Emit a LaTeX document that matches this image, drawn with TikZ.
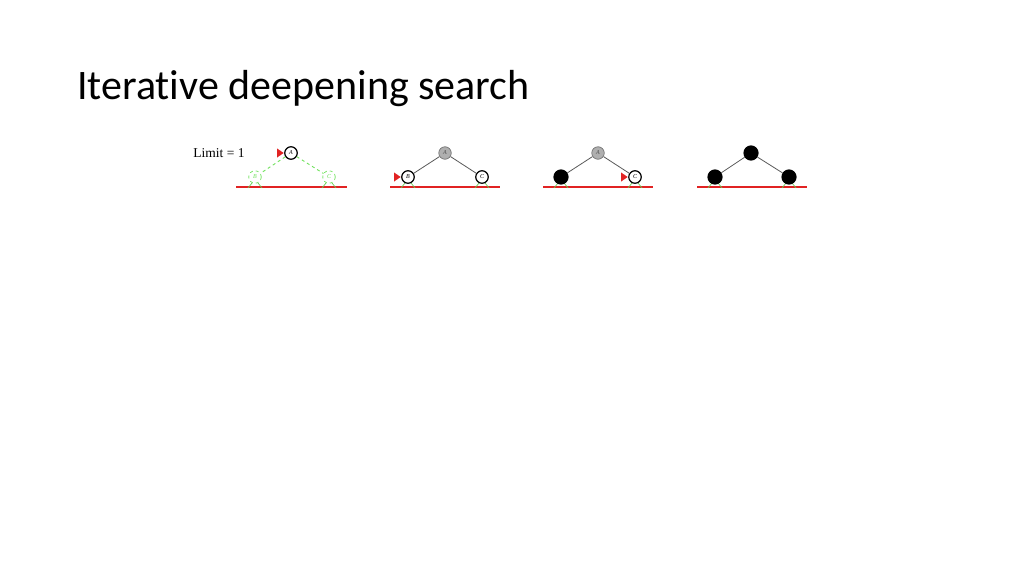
\documentclass[tikz,border=0pt]{standalone}
\usepackage{fontspec}
\setmainfont{Liberation Serif}
\newfontfamily\titlefont[Ligatures=NoCommon]{Carlito}
\usetikzlibrary{positioning}

\definecolor{ghostgreen}{RGB}{110,225,90}
\definecolor{floorred}{RGB}{225,35,35}
\definecolor{visgray}{RGB}{175,175,175}

\tikzset{
  tnode/.style={circle, draw=black, line width=1.2pt, fill=white, minimum size=12.5pt,
    inner sep=0pt, font=\fontsize{6}{6}\selectfont\itshape},
  gen/.style={tnode, fill=visgray, draw=black!55, line width=0.7pt, text=black!70},
  done/.style={tnode, fill=black, minimum size=14pt},
  ghost/.style={tnode, draw=ghostgreen, dashed, line width=0.7pt, text=ghostgreen},
  edge/.style={draw=black!65, line width=0.8pt},
  ghostedge/.style={draw=ghostgreen, dashed, line width=0.9pt},
  floor/.style={draw=floorred, line width=1.5pt},
  pics/stubs/.style={
    code={
      \draw[ghostgreen!90!black, line width=0.7pt] (-3,6) -- (-7,11);
      \draw[ghostgreen!90!black, line width=0.7pt] (3,6) -- (7,11);
    }
  },
  pics/marker/.style={
    code={
      \fill[floorred] (-0.5,0) -- (-7,-4.5) -- (-7,4.5) -- cycle;
    }
  }
}

\begin{document}
\begin{tikzpicture}[x=1pt, y=-1pt]
  \useasboundingbox (0,0) rectangle (1024,576);
  \node[anchor=base west, inner sep=0pt, font=\titlefont\fontsize{42}{42}\selectfont] (title) at (77,99) {Iterative deepening search};

  % limit 1, first step
  \node[font=\fontsize{13.5}{13.5}\selectfont] (limit) at (219,153) {Limit = 1};
  \draw[floor] (236,187) -- (347,187);
  \draw (255,177) pic{stubs} (329,177) pic{stubs};
  \node[tnode] (A1) at (291,153) {A};
  \node[ghost] (B1) at (255,177) {B};
  \node[ghost] (C1) at (329,177) {C};
  \draw[ghostedge] (A1) -- (B1);
  \draw[ghostedge] (A1) -- (C1);
  \pic at (A1.west) {marker};

  % second step
  \draw[floor] (390,187) -- (500,187);
  \draw (408,177) pic{stubs} (482,177) pic{stubs};
  \node[gen] (A2) at (445,153) {A};
  \node[tnode] (B2) at (408,177) {B};
  \node[tnode] (C2) at (482,177) {C};
  \draw[edge] (A2) -- (B2);
  \draw[edge] (A2) -- (C2);
  \pic at (B2.west) {marker};

  % third step
  \draw[floor] (543,187) -- (653,187);
  \draw (561,177) pic{stubs} (635,177) pic{stubs};
  \node[gen] (A3) at (598,153) {A};
  \node[done] (B3) at (561,177) {};
  \node[tnode] (C3) at (635,177) {C};
  \draw[edge] (A3) -- (B3);
  \draw[edge] (A3) -- (C3);
  \pic at (C3.west) {marker};

  % fourth step
  \draw[floor] (697,187) -- (807,187);
  \draw (715,177) pic{stubs} (789,177) pic{stubs};
  \node[done] (A4) at (751,153) {};
  \node[done] (B4) at (715,177) {};
  \node[done] (C4) at (789,177) {};
  \draw[edge] (A4) -- (B4);
  \draw[edge] (A4) -- (C4);
\end{tikzpicture}
\end{document}
